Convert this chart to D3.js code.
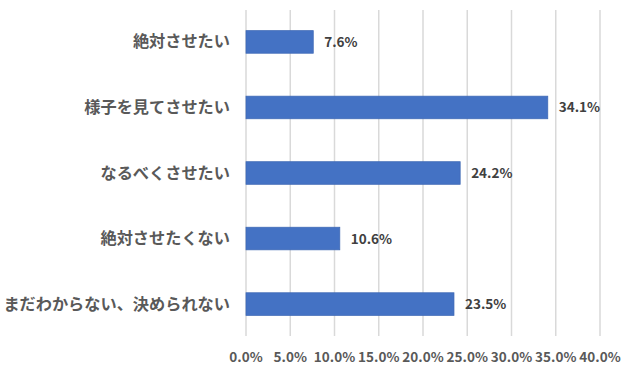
<!DOCTYPE html>
<html lang="ja">
<head>
  <meta charset="UTF-8">
  <title>Bar chart</title>
  <script src="https://d3js.org/d3.v7.min.js"></script>
  <style>
    body { margin: 0; background: #fff; }
    svg text { font-family: "Noto Sans CJK JP", "Noto Sans", sans-serif; }
    .cat { font-size: 16.2px; font-weight: bold; fill: #595959; }
    .val { font-size: 13.5px; font-weight: bold; fill: #404040; }
    .tick-label { font-size: 13.5px; font-weight: bold; fill: #595959; }
  </style>
</head>
<body>
  <div id="chart"></div>
  <script>
    const categories = ["絶対させたい", "様子を見てさせたい", "なるべくさせたい", "絶対させたくない", "まだわからない、決められない"];
    const values = [7.6, 34.1, 24.2, 10.6, 23.5];
    const ticks = [0, 5, 10, 15, 20, 25, 30, 35, 40];

    const width = 640, height = 371;

    const svg = d3.select("#chart").append("svg")
      .attr("width", width)
      .attr("height", height);

    const x = d3.scaleLinear().domain([0, 40]).range([246, 600]);
    const y = d3.scaleBand().domain(categories).range([9, 337]).paddingInner(0.655).paddingOuter(0.33);

    // gridlines
    svg.append("g")
      .selectAll("line")
      .data(ticks)
      .enter()
      .append("line")
      .attr("x1", d => x(d))
      .attr("x2", d => x(d))
      .attr("y1", 10)
      .attr("y2", 336)
      .attr("stroke", "#d9d9d9")
      .attr("stroke-width", 1.5);

    // bars
    svg.append("g")
      .selectAll("rect")
      .data(values)
      .enter()
      .append("rect")
      .attr("x", x(0))
      .attr("y", (d, i) => y(categories[i]))
      .attr("width", d => x(d) - x(0))
      .attr("height", y.bandwidth())
      .attr("fill", "#4472c4")
      .attr("stroke", "#3f69b5")
      .attr("stroke-width", 0.75);

    // value labels
    svg.append("g")
      .selectAll("text")
      .data(values)
      .enter()
      .append("text")
      .attr("class", "val")
      .attr("x", d => x(d) + 11)
      .attr("y", (d, i) => y(categories[i]) + y.bandwidth() / 2 + 5)
      .text(d => d.toFixed(1) + "%");

    // category labels
    svg.append("g")
      .selectAll("text")
      .data(categories)
      .enter()
      .append("text")
      .attr("class", "cat")
      .attr("x", 230)
      .attr("y", d => y(d) + y.bandwidth() / 2 + 5.5)
      .attr("text-anchor", "end")
      .text(d => d);

    // x tick labels
    svg.append("g")
      .selectAll("text")
      .data(ticks)
      .enter()
      .append("text")
      .attr("class", "tick-label")
      .attr("x", d => x(d))
      .attr("y", 362)
      .attr("text-anchor", "middle")
      .text(d => d.toFixed(1) + "%");
  </script>
</body>
</html>
